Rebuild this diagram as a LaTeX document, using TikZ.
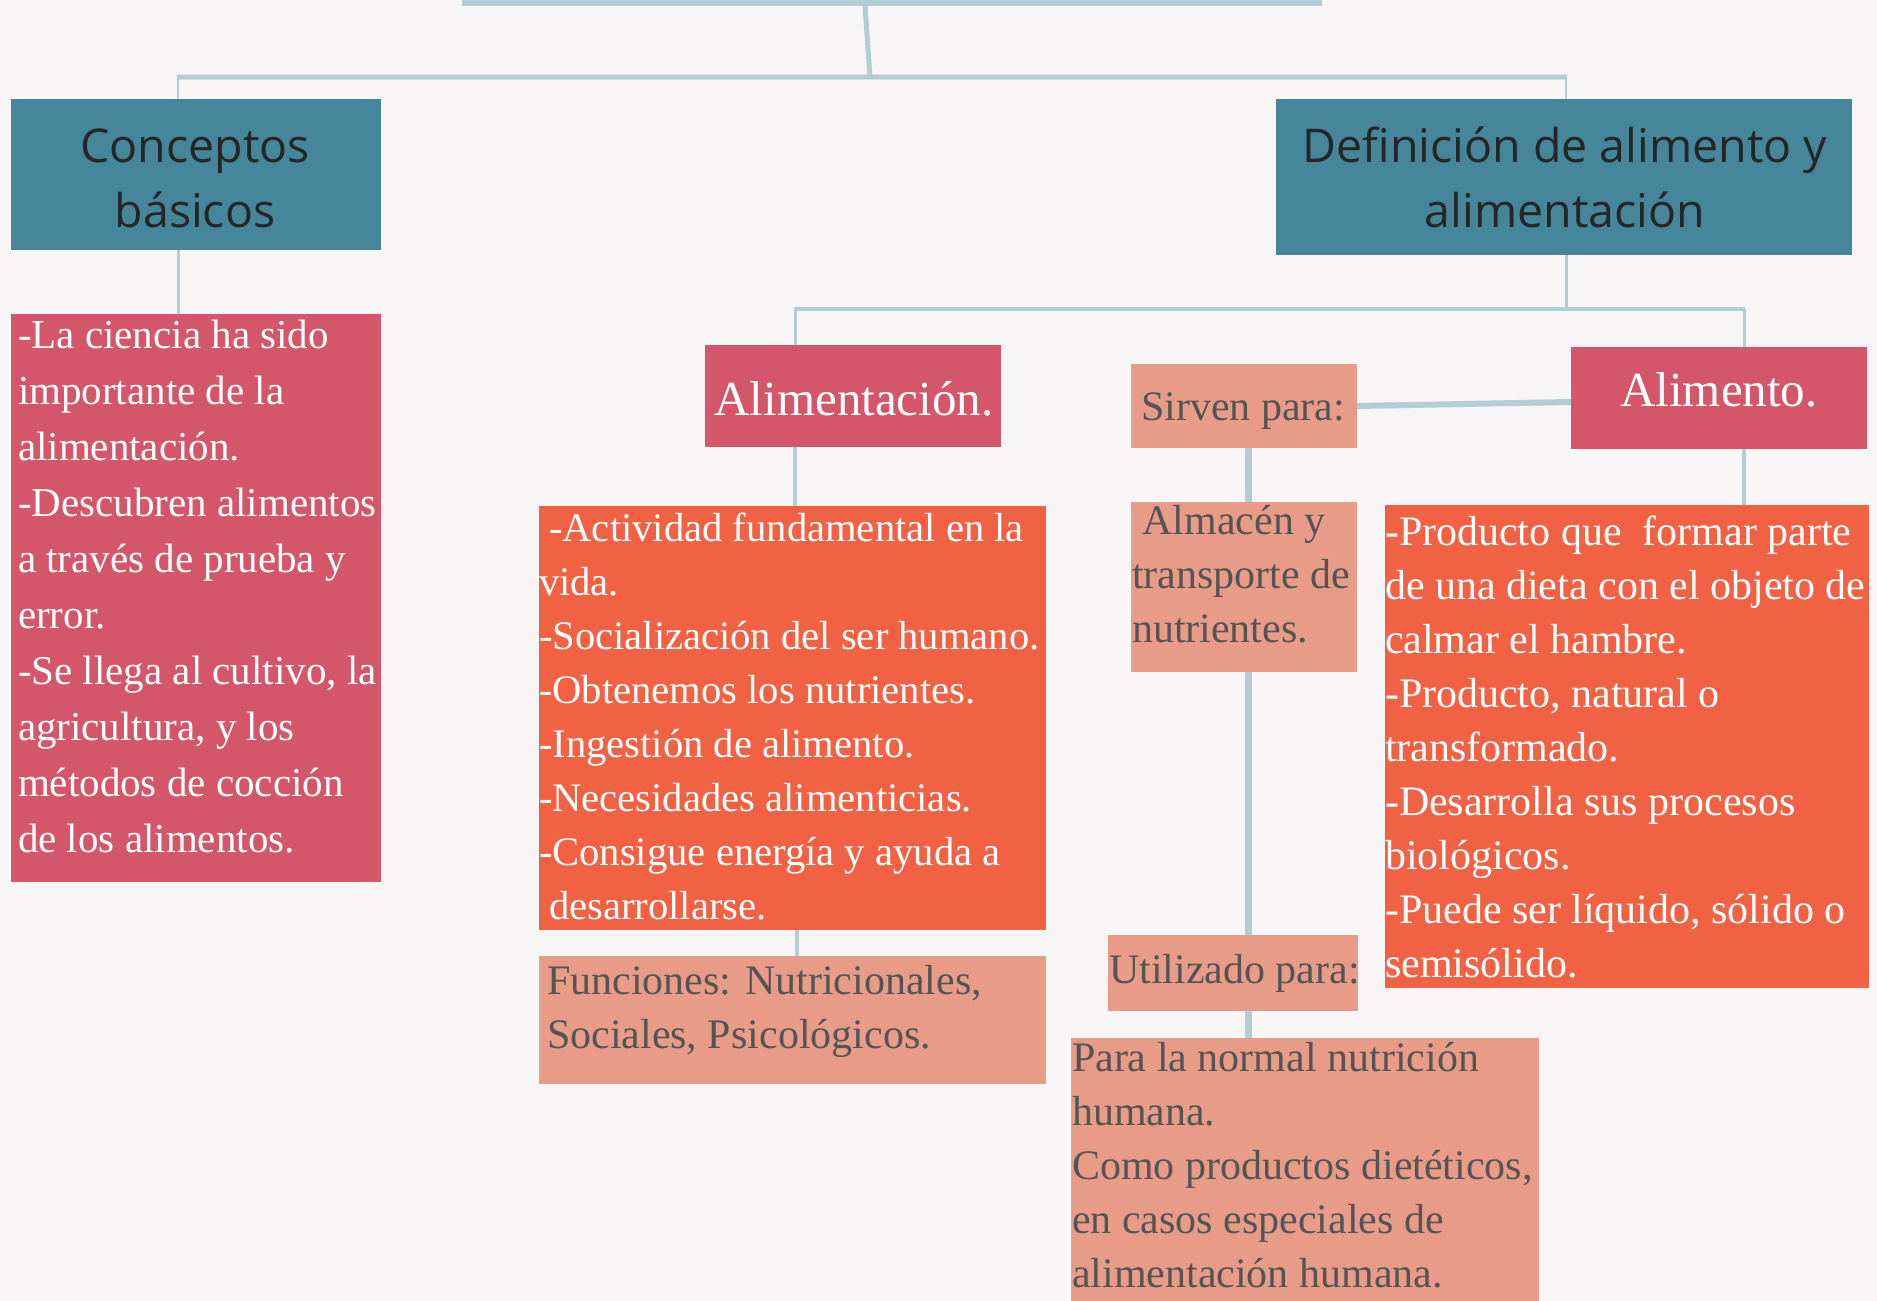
\documentclass[tikz,border=0pt]{standalone}
\usepackage{fontspec}
\setmainfont{Liberation Serif}
\newfontfamily\headfont{Open Sans}
\definecolor{bgc}{HTML}{F7F5F6}
\definecolor{tealc}{HTML}{46869A}
\definecolor{pinkc}{HTML}{D3566A}
\definecolor{orangec}{HTML}{F06243}
\definecolor{salmonc}{HTML}{E89C88}
\definecolor{linec}{HTML}{B3CDD5}
\definecolor{halo}{HTML}{D4E3E7}
\definecolor{grayt}{HTML}{545454}
\newcommand\blk[1]{\begin{tabular}[t]{@{}l@{}}#1\end{tabular}}
\newcommand\cblk[1]{\begin{tabular}[t]{@{}c@{}}#1\end{tabular}}
\begin{document}
\begin{tikzpicture}[x=1pt,y=-1pt,
  box/.style={rectangle,inner sep=0pt,outer sep=0pt,anchor=north west},
  tealbox/.style={box,fill=tealc},
  pinkbox/.style={box,fill=pinkc},
  orangebox/.style={box,fill=orangec},
  salmonbox/.style={box,fill=salmonc},
  txt/.style={anchor=base west,inner sep=0pt,outer sep=0pt,font=\fontsize{42}{54}\selectfont},
  wtxt/.style={txt,text=white},
  gtxt/.style={txt,text=grayt},
  headtxt/.style={anchor=base,inner sep=0pt,font=\headfont\fontsize{46.5}{65}\selectfont,text=black!85},
  titletxt/.style={anchor=base,inner sep=0pt,font=\fontsize{49}{60}\selectfont,text=white},
  conn/.style={draw=linec,line width=4pt},
  thinconn/.style={draw=linec,line width=2.6pt},
  thickconn/.style={draw=linec,line width=7pt}
]
\clip (0,0) rectangle (1877,1301);
\fill[bgc] (0,0) rectangle (1877,1301);

% boxes
\node[box,fill=linec,minimum width=860pt,minimum height=26pt] (title) at (462,-20) {};
\node[tealbox,minimum width=370pt,minimum height=151pt] (concept) at (11,99) {};
\node[tealbox,minimum width=576pt,minimum height=156pt] (defin) at (1276,99) {};
\node[pinkbox,minimum width=370pt,minimum height=568pt] (ciencia) at (11,314) {};
\node[pinkbox,minimum width=296pt,minimum height=102pt] (alimentacion) at (705,345) {};
\node[orangebox,minimum width=507pt,minimum height=424pt] (actividad) at (539,506) {};
\node[salmonbox,minimum width=507pt,minimum height=128pt] (funciones) at (539,956) {};
\node[salmonbox,minimum width=226pt,minimum height=84pt] (sirven) at (1131,364) {};
\node[salmonbox,minimum width=226pt,minimum height=170pt] (almacen) at (1131,502) {};
\node[salmonbox,minimum width=250pt,minimum height=76pt] (utilizado) at (1108,935) {};
\node[salmonbox,minimum width=468pt,minimum height=290pt] (para) at (1071,1038) {};
\node[pinkbox,minimum width=296pt,minimum height=102pt] (alimento) at (1571,347) {};
\node[orangebox,minimum width=484pt,minimum height=483pt] (producto) at (1385,505) {};

% junction coordinates
\coordinate (jtop) at (870,77);
\coordinate (jL) at (177,77);
\coordinate (jR) at (1567,77);
\coordinate (cL) at (178,77);
\coordinate (cR) at (1566,77);
\coordinate (dR) at (1566,309);
\coordinate (jA) at (794,309);
\coordinate (jB) at (1745,309);
\coordinate (aX) at (795,309);
\coordinate (bX) at (1744,309);
\coordinate (sX) at (1248,448);

% connectors
\draw[draw=halo,line width=6.5pt] (jL) -- (jR);
\draw[draw=linec,line width=3.5pt] (jL) -- (jR);
\draw[draw=linec,line width=5pt] ([xshift=-27pt]title.south) -- (jtop);
\draw[thinconn] (cL) -- (cL |- concept.north);
\draw[thinconn] (cR) -- (cR |- defin.north);
\draw[conn,line width=3pt] (cL |- concept.south) -- (cL |- ciencia.north);
\draw[conn,line width=3pt] (dR |- defin.south) -- (dR);
\draw[conn,line width=3.5pt] (jA) -- (jB);
\draw[thinconn,line width=3pt] (aX) -- (aX |- alimentacion.north);
\draw[thinconn,line width=3pt] (bX) -- (bX |- alimento.north);
\draw[conn] (aX |- alimentacion.south) -- (aX |- actividad.north);
\draw[conn] ([xshift=4.5pt]actividad.south) -- ([xshift=4.5pt]funciones.north);
\draw[conn] (bX |- alimento.south) -- (bX |- producto.north);
\draw[draw=linec,line width=6pt] (sirven.east) -- ([yshift=-4pt]alimento.west);
\draw[thickconn] (sX |- sirven.south) -- (sX |- almacen.north);
\draw[thickconn] (sX |- almacen.south) -- (sX |- utilizado.north);
\draw[thickconn] (sX |- utilizado.south) -- (sX |- para.north);

% texts
\node[headtxt] (tconcept) at (195,162) {\cblk{Conceptos\\básicos}};
\node[headtxt] (tdefin) at (1565,162) {\cblk{Definición de alimento y\\alimentación}};
\node[wtxt,font=\fontsize{41}{56}\selectfont] (tciencia) at (18,348) {\blk{-La ciencia ha sido\\importante de la\\alimentación.\\-Descubren alimentos\\a través de prueba y\\error.\\-Se llega al cultivo, la\\agricultura, y los\\métodos de cocción\\de los alimentos.}};
\node[titletxt] (talimentacion) at (854,415) {Alimentación.};
\node[titletxt] (talimento) at (1719,406) {Alimento.};
\node[wtxt,font=\fontsize{40.6}{54}\selectfont] (tactividad) at (539,541) {\blk{\ -Actividad fundamental en la\\vida.\\-Socialización del ser humano.\\-Obtenemos los nutrientes.\\-Ingestión de alimento.\\-Necesidades alimenticias.\\-Consigue energía y ayuda a\\\ desarrollarse.}};
\node[gtxt] (tfunciones) at (547,994) {\blk{Funciones: Nutricionales,\\Sociales, Psicológicos.}};
\node[gtxt] (tsirven) at (1141,420) {Sirven para:};
\node[gtxt] (talmacen) at (1132,534) {\blk{\ Almacén y\\transporte de\\nutrientes.}};
\node[gtxt] (tutilizado) at (1109,983) {Utilizado para:};
\node[gtxt] (tpara) at (1072,1071) {\blk{Para la normal nutrición\\humana.\\Como productos dietéticos,\\en casos especiales de\\alimentación humana.}};
\node[wtxt] (tproducto) at (1385,545) {\blk{-Producto que \ formar parte\\de una dieta con el objeto de\\calmar el hambre.\\-Producto, natural o\\transformado.\\-Desarrolla sus procesos\\biológicos.\\-Puede ser líquido, sólido o\\semisólido.}};
\end{tikzpicture}
\end{document}
